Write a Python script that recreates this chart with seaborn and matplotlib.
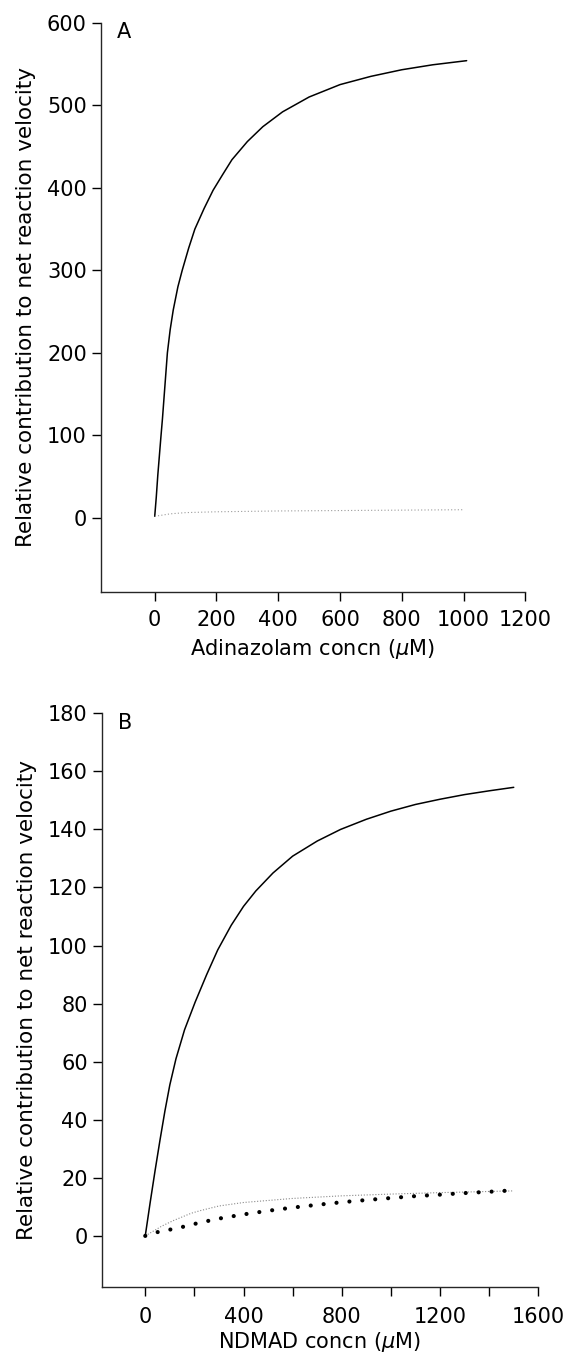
import numpy as np
import pandas as pd
import seaborn as sns
import matplotlib.pyplot as plt

# valores (painel A: adinazolam)
a_x_total = [0, 5, 10, 15, 20, 25, 33, 41, 50, 60, 75, 89, 110, 130, 160, 189, 220, 250,
             300, 350, 414, 500, 600, 700, 800, 900, 1010]
a_y_total = [2, 25, 52, 75, 98, 120, 160, 200, 228, 252, 280, 300, 327, 350, 375, 397, 416, 434,
             456, 474, 492, 510, 525, 535, 543, 549, 554]
a_x_low = [0, 50, 100, 200, 400, 600, 800, 1000]
a_y_low = [2, 5, 6.5, 7.5, 8.5, 9, 9.5, 10]

# painel B: NDMAD
b_x_total = [0, 20, 40, 60, 80, 100, 125, 160, 203, 250, 295, 350, 400, 450, 520, 600, 700,
             795, 900, 1000, 1100, 1200, 1300, 1400, 1500]
b_y_total = [0, 11.5, 22.5, 33, 43, 52, 61, 71, 80.5, 90, 98.5, 107, 113.5, 118.8, 125, 130.8, 136,
             140, 143.5, 146.3, 148.6, 150.4, 152, 153.3, 154.5]
b_x_faint = [0, 68, 115, 187, 224, 300, 400, 600, 800, 1000, 1200, 1500]
b_y_faint = [0, 3.4, 5.3, 7.8, 8.7, 10.3, 11.5, 12.9, 13.8, 14.4, 14.9, 15.5]
b_x_dots = [0, 54, 109, 163, 214, 300, 400, 500, 600, 700, 800, 900, 1000, 1100, 1200, 1300, 1400, 1500]
b_y_dots = [0, 1.4, 2.3, 3.3, 4.4, 5.96, 7.4, 8.65, 9.75, 10.7, 11.6, 12.35, 13.05, 13.7, 14.2, 14.75, 15.2, 15.7]

a_xticks = [0, 200, 400, 600, 800, 1000, 1200]
a_yticks = [0, 100, 200, 300, 400, 500, 600]
b_xticks = [0, 200, 400, 600, 800, 1000, 1200, 1400, 1600]
b_xticklabels = ['0', '', '400', '', '800', '', '1200', '', '1600']
b_yticks = [0, 20, 40, 60, 80, 100, 120, 140, 160, 180]

sns.set_style("ticks")
plt.rcParams['font.family'] = ['DejaVu Sans']
plt.rcParams['mathtext.fontset'] = 'dejavusans'
plt.rcParams['text.color'] = 'black'
plt.rcParams['axes.labelcolor'] = 'black'

fig = plt.figure(figsize=(5.72, 13.55), dpi=100)
axA = fig.add_axes([0.176, 0.5629, 0.9184 - 0.176, 0.98325 - 0.5629])
axB = fig.add_axes([0.1775, 0.05041, 0.9411 - 0.1775, 0.47358 - 0.05041])

# painel A
sns.lineplot(x=a_x_total, y=a_y_total, ax=axA, color='black', linewidth=1.1)
sns.lineplot(x=a_x_low, y=a_y_low, ax=axA, color='#9a9a9a', linewidth=0.8,
             linestyle=(0, (1, 2)))
axA.set_xlim(-175, 1200)
axA.set_ylim(-90, 600)
axA.set_xticks(a_xticks)
axA.set_yticks(a_yticks)
axA.set_xlabel('Adinazolam concn ($\\mu$M)', fontsize=15, labelpad=5)
axA.tick_params(axis='x', pad=6)
axA.text(0.054, 0.983, 'A', transform=axA.transAxes, fontsize=15,
         ha='center', va='center')

# painel B
sns.lineplot(x=b_x_total, y=b_y_total, ax=axB, color='black', linewidth=1.1)
sns.lineplot(x=b_x_faint, y=b_y_faint, ax=axB, color='#8a8a8a', linewidth=0.8,
             linestyle=(0, (1, 1.6)))
linha = sns.lineplot(x=b_x_dots, y=b_y_dots, ax=axB, color='black', linewidth=3.0)
linha.lines[-1].set_linestyle((0, (0.01, 3.1)))
linha.lines[-1].set_dash_capstyle('round')
axB.set_xlim(-178, 1600)
axB.set_ylim(-17.5, 180)
axB.set_xticks(b_xticks)
axB.set_xticklabels(b_xticklabels)
axB.set_yticks(b_yticks)
axB.set_xlabel('NDMAD concn ($\\mu$M)', fontsize=15, labelpad=2)
axB.tick_params(axis='x', pad=8)
axB.text(0.055, 0.983, 'B', transform=axB.transAxes, fontsize=15,
         ha='center', va='center')

for ax in (axA, axB):
    sns.despine(ax=ax)
    ax.spines['left'].set_linewidth(1.0)
    ax.spines['bottom'].set_linewidth(1.0)
    ax.tick_params(labelsize=15, length=6.5, width=1.0, direction='out', colors='black')
    ax.set_ylabel('Relative contribution to net reaction velocity', fontsize=15.5)

axA.yaxis.set_label_coords(-0.152, 0.5)
axB.yaxis.set_label_coords(-0.148, 0.5)

fig.savefig('out.png', dpi=100)
